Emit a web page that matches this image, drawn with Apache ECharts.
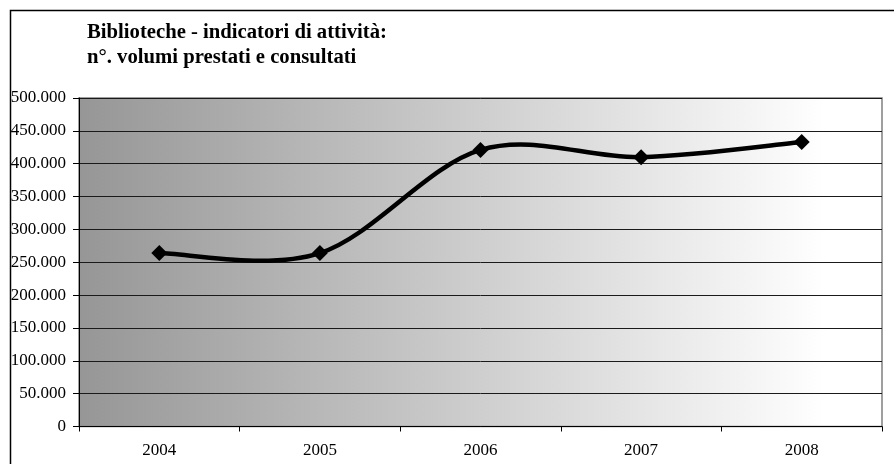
<!DOCTYPE html>
<html><head><meta charset="utf-8">
<script src="https://cdn.jsdelivr.net/npm/echarts@6/dist/echarts.min.js"></script>
<style>html,body{margin:0;padding:0;background:#fff}#c{width:894px;height:464px}</style>
</head><body><div id="c"></div>
<script>
const titleLines = ["Biblioteche - indicatori di attività:", "n°. volumi prestati e consultati"];
const years = ["2004", "2005", "2006", "2007", "2008"];
const volumes = [264000, 264000, 421000, 410000, 433000];
const yMin = 0, yMax = 500000, yStep = 50000;

const fmt = v => v === 0 ? "0" : String(v).replace(/\B(?=(\d{3})+(?!\d))/g, ".");
const FONT = '"Liberation Serif", "Times New Roman", serif';
const points = volumes.map((v, i) => [i, v]);

// Excel-like smoothed line: cubic Bezier segments, Catmull-Rom style tangents (1/6)
function renderSegment(params, api) {
  const n = volumes.length;
  const i = params.dataIndex;
  if (i >= n - 1) return null;
  const P = k => { k = Math.max(0, Math.min(n - 1, k)); return api.coord([k, volumes[k]]); };
  const p0 = P(i - 1), p1 = P(i), p2 = P(i + 1), p3 = P(i + 2);
  return {
    type: 'bezierCurve',
    shape: {
      x1: p1[0], y1: p1[1], x2: p2[0], y2: p2[1],
      cpx1: p1[0] + (p2[0] - p0[0]) / 6, cpy1: p1[1] + (p2[1] - p0[1]) / 6,
      cpx2: p2[0] - (p3[0] - p1[0]) / 6, cpy2: p2[1] - (p3[1] - p1[1]) / 6
    },
    style: {stroke: '#000', lineWidth: 4.5, fill: null, lineCap: 'round'}
  };
}

const chart = echarts.init(document.getElementById('c'), null, {renderer: 'canvas'});
chart.setOption({
  animation: false,
  backgroundColor: '#fff',
  title: {
    text: titleLines.join('\n'),
    left: 87, top: 20, padding: 0,
    textStyle: {fontFamily: FONT, fontSize: 20.7, fontWeight: 'bold', color: '#000', lineHeight: 25}
  },
  graphic: [{
    type: 'rect', left: 8, top: 8, shape: {x: 0, y: 0, width: 900, height: 500},
    style: {fill: null, stroke: '#000', lineWidth: 1.5}, silent: true, z: 100
  }],
  grid: {
    left: 79, top: 98, width: 803, height: 328.5,
    show: true,
    borderColor: '#808080', borderWidth: 1.5,
    backgroundColor: new echarts.graphic.LinearGradient(0, 0, 1, 0, [
      {offset: 0, color: '#969696'},
      {offset: 0.93, color: '#ffffff'},
      {offset: 1, color: '#ffffff'}
    ])
  },
  xAxis: {
    type: 'category', data: years, boundaryGap: true,
    axisLine: {lineStyle: {color: '#000', width: 1}},
    axisTick: {show: true, length: 5, inside: false, lineStyle: {color: '#000'}},
    axisLabel: {fontFamily: FONT, fontSize: 17, color: '#000', margin: 16},
    splitLine: {show: false}
  },
  yAxis: {
    type: 'value', min: yMin, max: yMax, interval: yStep,
    axisLine: {show: true, lineStyle: {color: '#000', width: 1}},
    axisTick: {show: true, length: 6, lineStyle: {color: '#000'}},
    axisLabel: {fontFamily: FONT, fontSize: 17, color: '#000', margin: 13, formatter: fmt},
    splitLine: {show: true, lineStyle: {color: '#1a1a1a', width: 1}}
  },
  series: [{
    type: 'custom', data: points, renderItem: renderSegment,
    encode: {x: 0, y: 1}, z: 3
  }, {
    type: 'scatter', data: points,
    symbol: 'diamond', symbolSize: 16,
    itemStyle: {color: '#000', opacity: 1}, z: 4
  }]
});
</script></body></html>
